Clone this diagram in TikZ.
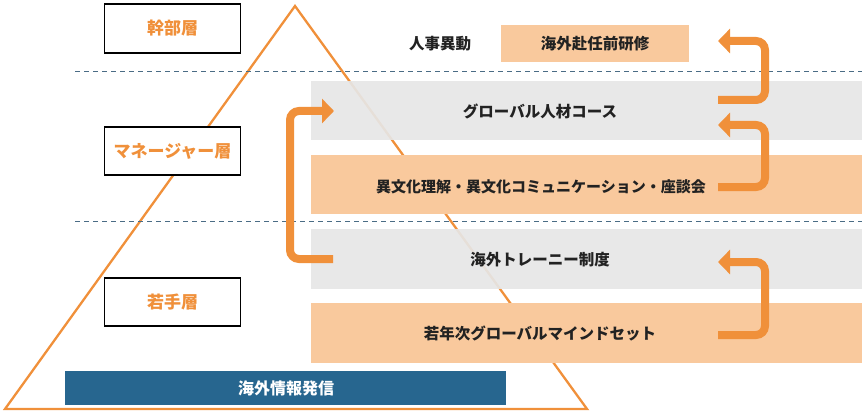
\documentclass[tikz,border=0pt]{standalone}
\usepackage{fontspec}
\newfontfamily\jp{Noto Sans CJK JP}
\usetikzlibrary{arrows.meta}
\definecolor{org}{HTML}{F0903A}
\definecolor{lorg}{HTML}{F9C99D}
\definecolor{lgray}{HTML}{E6E6E6}
\definecolor{navy}{HTML}{27668F}
\definecolor{dash}{HTML}{4A6C85}
\definecolor{txt}{HTML}{222222}
\tikzset{
  lvl/.style={draw=black, line width=1.1pt, fill=white, text=org, font=\jp\bfseries\fontsize{17}{17}\selectfont},
  band/.style={inner sep=0pt, anchor=north west},
  graybox/.style={band, fill=lgray, fill opacity=0.92},
  orgbox/.style={band, fill=lorg},
  lbl/.style={text=txt, font=\jp\bfseries\fontsize{15.5}{15.5}\selectfont},
  flow/.style={draw=org, line width=8pt, rounded corners=9pt, -{Triangle[width=24pt,length=12pt]}},
  sep/.style={draw=dash, dashed, dash pattern=on 5pt off 4pt, line width=0.8pt}
}
\begin{document}
\begin{tikzpicture}[x=1pt,y=-1pt]
\useasboundingbox (0,0) rectangle (866,414);
% pyramid
\draw[org, line width=2.3pt, line join=miter] (295,6) -- (5,409) -- (587,409) -- cycle;
% separators
\draw[sep] (75,71) -- (862,71);
\draw[sep] (75,221) -- (862,221);
% bands
\path[graybox] (311,81) rectangle (862,140);
\path[orgbox] (311,155) rectangle (862,214);
\path[graybox] (311,229) rectangle (862,289);
\path[orgbox] (311,303) rectangle (862,363);
\path[fill=lorg] (501,25) rectangle (689,62);
\path[fill=navy] (65,371) rectangle (506,405);
% level boxes
\node[lvl, minimum width=136pt, minimum height=49pt] (kanbu) at (172.5,28.5) {幹部層};
\node[lvl, minimum width=136pt, minimum height=48pt] (mgr) at (172.5,151) {マネージャー層};
\node[lvl, minimum width=136pt, minimum height=48pt] (waka) at (172.5,302) {若手層};
% labels
\node[lbl] (jinji) at (440,44) {人事異動};
\node[lbl] (funin) at (595,44) {海外赴任前研修};
\node[lbl] (global) at (540,111) {グローバル人材コース};
\node[lbl, font=\jp\bfseries\fontsize{15}{15}\selectfont] (ibunka) at (541,187) {異文化理解・異文化コミュニケーション・座談会};
\node[lbl] (trainee) at (540,260) {海外トレーニー制度};
\node[lbl] (young) at (540,333) {若年次グローバルマインドセット};
\node[text=white, font=\jp\bfseries\fontsize{16}{16}\selectfont] (info) at (286,388) {海外情報発信};
% connectors
\coordinate (a1s) at (333,259);
\coordinate (a1e) at (334,111);
\draw[flow] (a1s) -- (290,259) -- (290,111) -- (a1e);
\coordinate (b1s) at (718,100);
\coordinate (b1e) at (718,41);
\draw[flow] (b1s) -- (765,100) -- (765,41) -- (b1e);
\coordinate (b2s) at (718,187);
\coordinate (b2e) at (718,125);
\draw[flow] (b2s) -- (765,187) -- (765,125) -- (b2e);
\coordinate (b3s) at (718,335);
\coordinate (b3e) at (718,262);
\draw[flow] (b3s) -- (765,335) -- (765,262) -- (b3e);
\end{tikzpicture}
\end{document}
